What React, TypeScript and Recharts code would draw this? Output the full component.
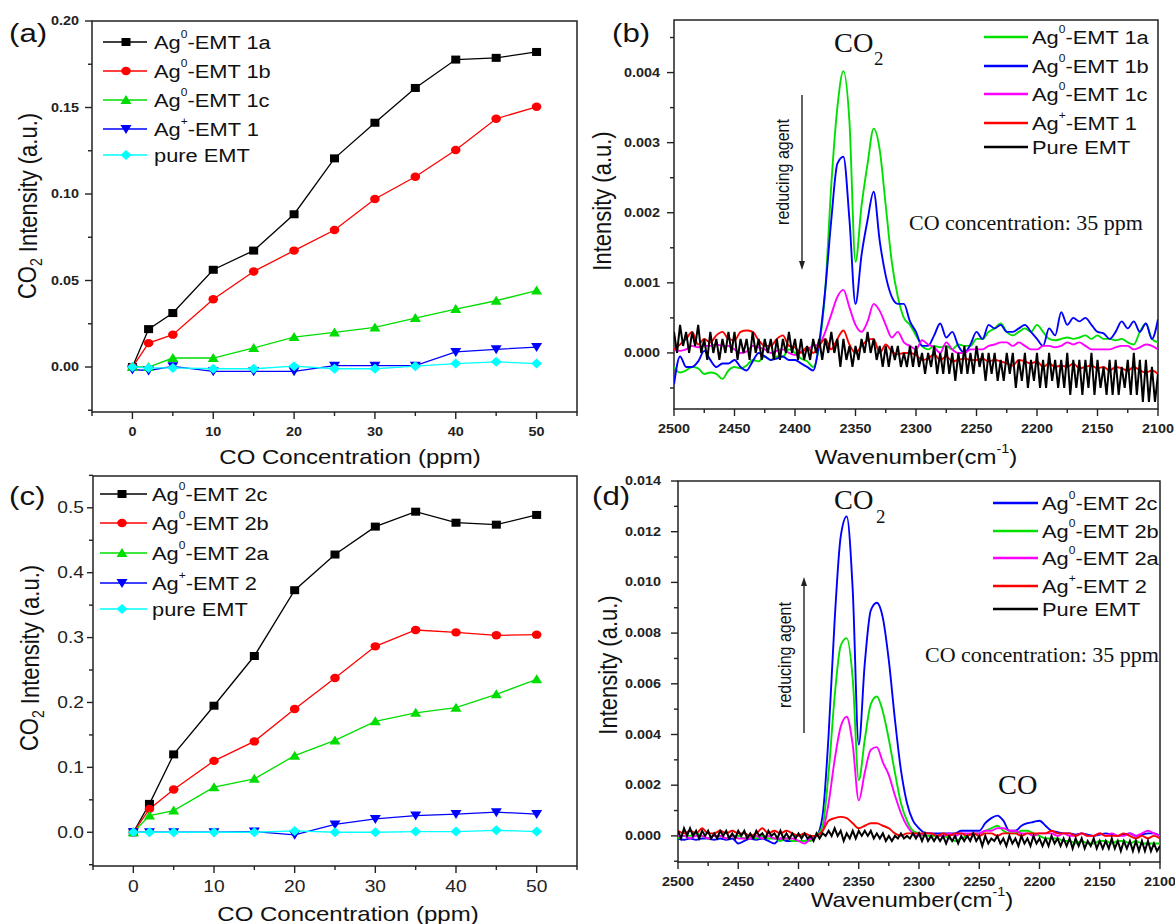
import React from 'react';
import { LineChart, Line, XAxis, YAxis, ReferenceArea } from 'recharts';

const SANS = '"Liberation Sans", Arial, sans-serif';
const SERIF = '"Liberation Serif", "Times New Roman", serif';
const SX = 1.2;

// ---------- Panel (a) ----------
const A_X = [0, 2, 5, 10, 15, 20, 25, 30, 35, 40, 45, 50];
const A_1A = [0, 0.0219, 0.0312, 0.0562, 0.0673, 0.0883, 0.1206, 0.1412, 0.1613, 0.1777, 0.1787, 0.1821];
const A_1B = [0, 0.0138, 0.0187, 0.0392, 0.0552, 0.0673, 0.0792, 0.0971, 0.11, 0.1254, 0.1435, 0.1504];
const A_1C = [0, 0, 0.0052, 0.0052, 0.011, 0.0173, 0.02, 0.0229, 0.0283, 0.0335, 0.0383, 0.0442];
const A_AG = [-0.0015, -0.002, 0.0004, -0.0025, -0.0025, -0.0025, 0.0008, 0.0008, 0.0008, 0.0087, 0.0102, 0.0115];
const A_PURE = [0, -0.0005, -0.0005, -0.001, -0.001, 0.0005, -0.001, -0.001, 0.0005, 0.002, 0.003, 0.002];

// ---------- Panel (c) ----------
const C_X = [0, 2, 5, 10, 15, 20, 25, 30, 35, 40, 45, 50];
const C_2C = [0, 0.0437, 0.12, 0.195, 0.2716, 0.373, 0.428, 0.471, 0.494, 0.477, 0.474, 0.489];
const C_2B = [0, 0.036, 0.066, 0.11, 0.14, 0.19, 0.2376, 0.2865, 0.3117, 0.308, 0.3035, 0.3045];
const C_2A = [0, 0.0257, 0.0334, 0.0694, 0.0823, 0.118, 0.1415, 0.171, 0.184, 0.192, 0.2125, 0.2356];
const C_AG = [0, 0, 0, 0, 0.001, -0.004, 0.012, 0.0206, 0.0257, 0.028, 0.031, 0.028];
const C_PURE = [0, 0, 0, 0, 0, 0.002, 0, 0, 0.001, 0.001, 0.003, 0.001];

// ---------- Spectra wavenumber grids (cm-1) ----------
const WN5 = Array.from({ length: 81 }, (_, i) => 2500 - 5 * i);
const WN25 = Array.from({ length: 161 }, (_, i) => 2500 - 2.5 * i);

// ---------- Panel (b) ----------
const B_1A = [
  -0.0002, -0.00028, -0.00025, -0.0002, -0.00022, -0.0003, -0.00028, -0.0003, -0.00037, -0.00025,
  -0.0002, -0.00022, -0.00018, -0.0001, -0.00012, -0.00005, -0.0001, -0.00005, -0.00005, 0.00005,
  0.0, -0.00008, -0.00012, -0.0002, 0.0001, 0.0009, 0.0024, 0.0035, 0.00402, 0.0033,
  0.0013, 0.0021, 0.0027, 0.0032, 0.0029, 0.0021, 0.0013, 0.0008, 0.0005, 0.0004,
  0.00025, 0.0001, 0.00005, 0.0001, 0.00008, 0.0001, 0.00005, 0.00012, 0.0001, 0.0001,
  0.0002, 0.0002, 0.0003, 0.00035, 0.00042, 0.0003, 0.00025, 0.0003, 0.00035, 0.0003,
  0.0004, 0.0003, 0.0002, 0.00018, 0.0002, 0.00022, 0.0002, 0.00022, 0.00025, 0.0002,
  0.00025, 0.0002, 0.0002, 0.00018, 0.0002, 0.00015, 0.00012, 0.0003, 0.00042, 0.0002,
  0.00015,
];
const B_1B = [
  -0.00045, -0.00005, -0.0002, -0.0002, -0.00012, 0.00003, -0.0001, -0.0002, -0.00015, -0.00015,
  -0.0001, -0.0002, -0.00025, -0.00012, 0.0, -0.00005, -0.0001, -0.00008, -0.00005, -0.0001,
  -0.0001, -0.00015, -0.0002, -0.00025, 0.00015, 0.0009, 0.0019, 0.0027, 0.0028, 0.0019,
  0.0007, 0.0014, 0.0019, 0.0023, 0.0016, 0.0011, 0.0008, 0.0007, 0.0007, 0.00045,
  0.0003, 0.0001, 0.0001, 0.00025, 0.00042, 0.00022, 0.0003, 0.0001, 0.0, 0.00012,
  0.0003, 0.0002, 0.0004, 0.00035, 0.0004, 0.0003, 0.0003, 0.00035, 0.0004, 0.0003,
  0.0002, 0.0001, 0.00035, 0.00025, 0.00058, 0.0004, 0.0005, 0.00045, 0.0005, 0.0004,
  0.0003, 0.00028, 0.0002, 0.0003, 0.00045, 0.00035, 0.00045, 0.0003, 0.00042, 0.0002,
  0.00048,
];
const B_1C = [
  0.00005, 0.00003, 0.00005, 0.0001, 0.00008, 0.0001, 0.0001, 0.00012, 0.0001, 0.0001,
  0.00005, 0.0, 0.00002, 0.0001, 0.00008, 0.00005, 0.0, 0.00003, 0.00005, 0.0,
  -0.00003, 0.00002, 0.00005, 0.0001, 0.00012, 0.0003, 0.00055, 0.0008, 0.0009, 0.00065,
  0.0004, 0.0003, 0.00045, 0.0007, 0.0006, 0.0004, 0.00022, 0.0003, 0.00015, 0.0001,
  0.00005, 0.00018, 0.00012, 0.00008, 0.0, 0.00015, 0.00005, 0.0, 0.0, 0.00005,
  0.00005, 0.00005, 0.0001, 0.00012, 0.00015, 0.00015, 0.0001, 0.00015, 0.0001, 0.00005,
  0.00005, 0.0001, 0.0001, 0.00008, 0.0001, 0.00015, 0.00012, 0.00015, 0.0001, 0.00005,
  0.00005, 0.00005, 0.00005, 0.00008, 0.0001, 0.0001, 0.00005, 0.00008, 0.00012, 0.0001,
  0.00005,
];
const B_AG = [
  0.00005, 0.00012, 0.0002, 0.0003, 0.00012, 0.0002, 0.00015, 0.00025, 0.0003, 0.0002,
  0.00018, 0.0003, 0.00032, 0.0003, 0.00018, 0.0001, 0.0001, 0.0002, 0.00025, 0.0001,
  0.00008, 0.0, 0.00008, 0.0, 0.0001, 0.0002, 0.00005, 0.0002, 0.00032, 0.00012,
  0.0, 0.0001, 0.00018, 0.0002, 0.0, 0.00012, 0.00002, -0.00002, 0.0, 0.0,
  -0.00003, -0.0001, -0.00008, -0.00002, -0.0001, -0.00005, -0.00012, -0.0001, -0.00008, -0.0001,
  -0.0001, -0.00008, -0.00012, -0.0001, -0.00012, -0.00015, -0.00018, -0.0001, -0.00012, -0.00015,
  -0.00012, -0.0002, -0.00015, -0.0002, -0.00018, -0.0002, -0.00015, -0.00022, -0.0002, -0.00018,
  -0.00022, -0.0002, -0.00025, -0.0002, -0.00022, -0.00025, -0.0002, -0.00025, -0.00028, -0.00025,
  -0.0003,
];
const B_PURE = [
  0.0003, 0.0, 0.0004, 0.0001, 0.0003, 0.0, 0.0003, 0.0001, 0.0004, 0.0,
  0.0002, -0.0001, 0.0003, 0.0, 0.0002, -0.0001, 0.0002, 0.0, 0.0003, 0.0,
  0.0003, -0.0001, 0.0002, 0.0, 0.0002, -0.0001, 0.0003, 0.0, 0.0002, -0.0001,
  0.0002, 0.0, 0.0002, -0.0001, 0.0002, -0.0001, 0.0002, 0.0, 0.0003, 0.0,
  0.0002, -0.0001, 0.0002, -0.0001, 0.0001, -0.0001, 0.0002, 0.0, 0.0002, -0.0001,
  0.0002, 0.0, 0.0003, 0.0, 0.0002, -0.0002, 0.0002, -0.0001, 0.0001, -0.0002,
  0.0001, -0.0001, 0.0002, 0.0, 0.0003, 0.0, 0.0002, -0.0001, 0.0001, -0.0002,
  0.0001, -0.0002, 0.0001, -0.0001, 0.0001, -0.0002, 0.0, -0.0002, 0.0001, -0.0002,
  0.0001, -0.0002, 0.0, -0.0003, 0.0, -0.0002, 0.0001, -0.0003, 0.0, -0.0003,
  0.0001, -0.0003, 0.0, -0.0004, 0.0, -0.0003, 0.0001, -0.0003, 0.0, -0.0003,
  0.0001, -0.0002, 0.0, -0.0004, 0.0, -0.0003, 0.0, -0.0004, -0.0001, -0.0004,
  0.0, -0.0003, 0.0, -0.0005, -0.0001, -0.0004, 0.0, -0.0005, -0.0001, -0.0004,
  0.0, -0.0005, -0.0001, -0.0005, 0.0, -0.0004, -0.0001, -0.0005, -0.0001, -0.0005,
  0.0, -0.0006, -0.0001, -0.0005, -0.0001, -0.0006, -0.0001, -0.0005, 0.0, -0.0006,
  -0.0001, -0.0005, -0.0002, -0.0006, -0.0001, -0.0006, -0.0001, -0.0006, -0.0002, -0.0005,
  -0.0001, -0.0006, 0.0, -0.0006, -0.0001, -0.0007, -0.0001, -0.0007, -0.0002, -0.0007,
  -0.0003,
];

// ---------- Panel (d) ----------
const D_2C = [
  -0.0001, -0.00015, -0.0001, -0.00015, -0.0001, -0.0001, -0.00015, -0.0001, -0.00015, -0.0001,
  -0.0003, -0.0002, -0.0001, -0.00015, -0.0001, -0.0002, -0.0003, -0.0001, -0.0002, -0.0002,
  -0.0002, -0.0002, -0.0001, 0.0, 0.0008, 0.004, 0.0085, 0.0118, 0.0126, 0.0097,
  0.0036, 0.0068, 0.0089, 0.0092, 0.0086, 0.0069, 0.0046, 0.0026, 0.0013, 0.0006,
  0.0003, 0.00012, 0.0001, 0.0001, 0.0001, 0.0001, 0.0001, 0.0002, 0.0002, 0.0002,
  0.0002, 0.0005, 0.0007, 0.0008, 0.0006, 0.0002, 0.0002, 0.0004, 0.0005, 0.00055,
  0.0006, 0.0004, 0.0002, 0.00015, 0.0001, 0.0001, 0.00005, 0.0001, 0.00005, 0.0,
  0.00005, 0.0001, 0.00005, 0.0, 0.00005, 0.0001, 0.0, 0.00005, 0.0001, 0.0001,
  0.0,
];
const D_2B = [
  -0.0001, 0.0, 0.0, 0.0001, 0.0, -0.0001, 0.0, 0.0, -0.0001, 0.0,
  0.0, -0.0001, 0.0, -0.0001, 0.0, -0.0001, -0.0001, -0.0002, -0.0001, -0.0002,
  -0.0002, -0.0002, -0.0002, 0.0, 0.0004, 0.0025, 0.0055, 0.0075, 0.0078, 0.0062,
  0.0022, 0.0038, 0.0052, 0.0055, 0.0049, 0.0038, 0.0025, 0.0013, 0.0006, 0.0002,
  0.0001, 0.0, 0.0, 0.0, 0.0, -0.0001, -0.0002, -0.0001, 0.0, 0.0001,
  0.0001, 0.0002, 0.0003, 0.0004, 0.0002, 0.0001, 0.0001, 0.0002, 0.0002, 0.0001,
  0.0, -0.0001, -0.0001, -0.0001, -0.0002, -0.0002, -0.0003, -0.0002, -0.0003, -0.0003,
  -0.0002, -0.0002, -0.0003, -0.0002, -0.0002, -0.0003, -0.0002, -0.0003, -0.0003, -0.0003,
  -0.0003,
];
const D_2A = [
  0.0, 0.0, -0.0001, 0.0, 0.0, -0.0001, 0.0, 0.0, -0.0001, 0.0,
  -0.0001, -0.0001, -0.0001, 0.0, -0.0001, 0.0, -0.0001, -0.0001, -0.0001, -0.0001,
  -0.0002, -0.0003, -0.0001, 0.0, 0.0002, 0.0013, 0.003, 0.0043, 0.0047, 0.0036,
  0.0014, 0.0025, 0.0034, 0.0035, 0.0029, 0.0024, 0.0016, 0.0009, 0.0004, 0.0001,
  0.0, 0.0001, 0.0001, 0.0, 0.0, 0.0001, 0.0, 0.0001, 0.0001, 0.0001,
  0.0001, 0.0002, 0.0002, 0.0003, 0.0003, 0.0002, 0.0002, 0.0001, 0.0001, 0.0,
  0.0001, 0.0001, 0.0001, 0.0, 0.0001, 0.0, 0.0, 0.0001, 0.0, 0.0,
  0.0001, 0.0, 0.0001, 0.0, 0.0, 0.0001, 0.0, 0.0001, 0.0002, 0.0001,
  0.0,
];
const D_AG = [
  0.0002, 0.0001, 0.0002, 0.0001, 0.0003, 0.0001, 0.0001, 0.0002, 0.0001, 0.0002,
  0.0001, 0.0001, 0.0, 0.0001, 0.0003, 0.0001, 0.0002, 0.0001, 0.0002, 0.0001,
  0.0, 0.0001, 0.0, 0.0, 0.0002, 0.0006, 0.0007, 0.00075, 0.0007, 0.0005,
  0.0003, 0.0004, 0.0005, 0.0005, 0.0004, 0.0003, 0.0001, 0.0, 0.0001, 0.0001,
  0.0001, 0.0001, 0.0001, 0.0, 0.0001, 0.0, 0.0001, 0.0001, 0.0, 0.0001,
  0.0, 0.0001, 0.0001, 0.0, 0.0001, 0.0001, 0.0001, 0.0, 0.0001, 0.0001,
  0.0001, 0.0001, 0.0002, 0.0001, 0.0001, 0.0001, 0.0, 0.0001, 0.0, 0.0,
  0.0001, 0.0, 0.0, 0.0, 0.0001, 0.0, -0.0001, 0.0, -0.0001, 0.0,
  -0.0001,
];
const D_PURE = [
  0.0002, -0.0001, 0.0003, 0.0, 0.0003, 0.0, 0.0002, -0.0001, 0.0002, 0.0,
  0.0002, -0.0001, 0.0001, -0.0001, 0.0002, 0.0, 0.0002, -0.0001, 0.0001, -0.0001,
  0.0002, 0.0, 0.0002, -0.0001, 0.0001, -0.0001, 0.0002, 0.0, 0.0001, -0.0001,
  0.0002, 0.0, 0.0001, -0.0001, 0.0002, -0.0001, 0.0001, -0.0001, 0.0001, -0.0001,
  0.0001, -0.0001, 0.0001, -0.0001, 0.0, -0.0002, 0.0001, -0.0001, 0.0001, 0.0,
  0.0002, 0.0, 0.0003, 0.0, 0.0002, -0.0002, 0.0001, -0.0001, 0.0002, -0.0001,
  0.0002, 0.0, 0.0002, 0.0, 0.0002, -0.0001, 0.0001, -0.0001, 0.0001, -0.0002,
  0.0, -0.0002, 0.0, -0.0001, 0.0001, -0.0001, 0.0, -0.0001, 0.0001, -0.0001,
  0.0001, -0.0002, 0.0001, -0.0002, 0.0, -0.0002, 0.0, -0.0002, 0.0, -0.0003,
  0.0, -0.0002, 0.0, -0.0003, 0.0, -0.0002, 0.0, -0.0002, 0.0001, -0.0002,
  0.0, -0.0004, 0.0, -0.0003, -0.0001, -0.0002, 0.0, -0.0003, -0.0001, -0.0004,
  0.0, -0.0003, -0.0001, -0.0004, 0.0, -0.0003, -0.0001, -0.0004, 0.0, -0.0003,
  -0.0001, -0.0004, -0.0001, -0.0004, 0.0, -0.0003, -0.0001, -0.0004, -0.0001, -0.0004,
  -0.0001, -0.0005, -0.0001, -0.0004, -0.0001, -0.0005, -0.0002, -0.0004, -0.0001, -0.0005,
  -0.0002, -0.0005, -0.0002, -0.0005, -0.0001, -0.0005, -0.0002, -0.0006, -0.0002, -0.0005,
  -0.0002, -0.0006, -0.0002, -0.0006, -0.0002, -0.0006, -0.0002, -0.0006, -0.0003, -0.0006,
  -0.0004,
];

// ---------- Ticks ----------
const AC_XT = [-5, 0, 5, 10, 15, 20, 25, 30, 35, 40, 45, 50, 55];
const AC_XM = [0, 10, 20, 30, 40, 50];
const A_YT = [-0.025, 0, 0.025, 0.05, 0.075, 0.1, 0.125, 0.15, 0.175, 0.2];
const A_YM = [0, 0.05, 0.1, 0.15, 0.2];
const C_YT = [-0.05, 0, 0.05, 0.1, 0.15, 0.2, 0.25, 0.3, 0.35, 0.4, 0.45, 0.5, 0.55];
const C_YM = [0, 0.1, 0.2, 0.3, 0.4, 0.5];
const BD_XT = [2500, 2475, 2450, 2425, 2400, 2375, 2350, 2325, 2300, 2275, 2250, 2225, 2200, 2175, 2150, 2125, 2100];
const BD_XM = [2500, 2450, 2400, 2350, 2300, 2250, 2200, 2150, 2100];
const B_YT = [-0.0005, 0, 0.0005, 0.001, 0.0015, 0.002, 0.0025, 0.003, 0.0035, 0.004, 0.0045];
const B_YM = [0, 0.001, 0.002, 0.003, 0.004];
const D_YT = [-0.001, 0, 0.001, 0.002, 0.003, 0.004, 0.005, 0.006, 0.007, 0.008, 0.009, 0.01, 0.011, 0.012, 0.013, 0.014];
const D_YM = [0, 0.002, 0.004, 0.006, 0.008, 0.01, 0.012, 0.014];

const A_XD = [-5, 55];
const A_YD = [-0.026, 0.2];
const C_YD = [-0.052, 0.549];
const BD_XD = [2100, 2500];
const B_YD = [-0.0008, 0.00475];
const D_YD = [-0.00103, 0.014];

// ---------- Legend labels ----------
const LEG_A = [['Ag', '0', '-EMT 1a'], ['Ag', '0', '-EMT 1b'], ['Ag', '0', '-EMT 1c'], ['Ag', '+', '-EMT 1'], ['pure EMT', '', '']];
const LEG_B = [['Ag', '0', '-EMT 1a'], ['Ag', '0', '-EMT 1b'], ['Ag', '0', '-EMT 1c'], ['Ag', '+', '-EMT 1'], ['Pure EMT', '', '']];
const LEG_C = [['Ag', '0', '-EMT 2c'], ['Ag', '0', '-EMT 2b'], ['Ag', '0', '-EMT 2a'], ['Ag', '+', '-EMT 2'], ['pure EMT', '', '']];
const LEG_D = [['Ag', '0', '-EMT 2c'], ['Ag', '0', '-EMT 2b'], ['Ag', '0', '-EMT 2a'], ['Ag', '+', '-EMT 2'], ['Pure EMT', '', '']];

// ---------- Styles ----------
const SC_COLORS = ['#000000', '#ff0000', '#00dd00', '#0000ff', '#00ffff'];
const SC_SHAPES = ['square', 'circle', 'up', 'down', 'diamond'];
const B_COLORS = ['#00e000', '#0000ff', '#ff00ff', '#ff0000', '#000000'];
const D_COLORS = ['#0000ff', '#00e000', '#ff00ff', '#ff0000', '#000000'];

const pts = (xs: number[], ys: number[]) => xs.map((x, i) => ({ x, y: ys[i] }));

function SText(props: any) {
  const { x, y, size, children, anchor = 'start', weight = 400, family = SANS, sx = SX, rotate = 0, fill = '#111', baseline = 'central' } = props;
  const tr = `translate(${x},${y}) scale(${sx},1)` + (rotate ? ` rotate(${rotate})` : '');
  return (
    <g transform={tr}>
      <text x={0} y={0} fontSize={size} fontFamily={family} fontWeight={weight} textAnchor={anchor} dominantBaseline={baseline} fill={fill}>
        {children}
      </text>
    </g>
  );
}

function Marker({ shape, cx, cy, color }: any) {
  if (shape === 'square') return <rect x={cx - 4.5} y={cy - 4} width={9} height={8} fill={color} />;
  if (shape === 'circle') return <ellipse cx={cx} cy={cy} rx={4.8} ry={4.2} fill={color} />;
  if (shape === 'up') return <polygon points={`${cx - 5.5},${cy + 4} ${cx + 5.5},${cy + 4} ${cx},${cy - 5}`} fill={color} />;
  if (shape === 'down') return <polygon points={`${cx - 5.5},${cy - 4} ${cx + 5.5},${cy - 4} ${cx},${cy + 5}`} fill={color} />;
  return <polygon points={`${cx - 5.5},${cy} ${cx},${cy - 5} ${cx + 5.5},${cy} ${cx},${cy + 5}`} fill={color} />;
}

const dotFor = (shape: string, color: string) => (p: any) => (
  <Marker key={`m${p.index}`} shape={shape} cx={p.cx} cy={p.cy} color={color} />
);

const near = (arr: number[], v: number) => arr.some((m) => Math.abs(m - v) < 1e-9);

function makeTick(o: any) {
  return (p: any) => {
    const { x, y, payload } = p;
    const v = payload.value;
    const maj = near(o.majors, v);
    const len = maj ? o.major : o.minor;
    if (o.side === 'left') {
      return (
        <g>
          <line x1={x} x2={x - len} y1={y} y2={y} stroke="#222" strokeWidth={1.4} />
          {maj && (
            <SText x={x - o.major - o.gap} y={y} size={o.size} anchor="end" weight={o.weight} fill="#222">
              {o.fmt(v)}
            </SText>
          )}
        </g>
      );
    }
    return (
      <g>
        <line x1={x} x2={x} y1={y} y2={y + len} stroke="#222" strokeWidth={1.4} />
        {maj && (
          <SText x={x} y={y + o.off} size={o.size} anchor="middle" weight={o.weight} fill="#222">
            {o.fmt(v)}
          </SText>
        )}
      </g>
    );
  };
}

function Chart(p: any) {
  return (
    <div style={{ position: 'absolute', left: p.left, top: p.top }}>
      <LineChart width={p.w} height={p.h} margin={p.margin}>
        <XAxis
          type="number"
          dataKey="x"
          domain={p.xd}
          ticks={p.xt}
          interval={0}
          reversed={!!p.rev}
          allowDataOverflow
          axisLine={false}
          tickLine={false}
          tickSize={0}
          tickMargin={0}
          height={p.xh}
          tick={p.xTick}
        />
        <YAxis
          type="number"
          domain={p.yd}
          ticks={p.yt}
          interval={0}
          allowDataOverflow
          axisLine={false}
          tickLine={false}
          tickSize={0}
          tickMargin={0}
          width={p.yw}
          tick={p.yTick}
        />
        <ReferenceArea x1={p.xd[0]} x2={p.xd[1]} y1={p.yd[0]} y2={p.yd[1]} fill="none" fillOpacity={0} stroke="#222" strokeWidth={1.5} ifOverflow="visible" />
        {p.lines}
      </LineChart>
    </div>
  );
}

function scatterLines(xs: number[], series: number[][]) {
  return series.map((ys, i) => (
    <Line
      key={`s${i}`}
      data={pts(xs, ys)}
      dataKey="y"
      type="linear"
      stroke={SC_COLORS[i]}
      strokeWidth={1.3}
      dot={dotFor(SC_SHAPES[i], SC_COLORS[i])}
      activeDot={false}
      isAnimationActive={false}
    />
  ));
}

function specLines(series: number[][], colors: string[]) {
  return series.map((ys, i) => {
    const isBlack = i === 4;
    return (
      <Line
        key={`p${i}`}
        data={pts(isBlack ? WN25 : WN5, ys)}
        dataKey="y"
        type={isBlack ? 'linear' : 'monotone'}
        stroke={colors[i]}
        strokeWidth={isBlack ? 2 : 1.9}
        dot={false}
        activeDot={false}
        isAnimationActive={false}
      />
    );
  });
}

function Label3({ x, y, size, parts }: any) {
  const [pre, sup, post] = parts;
  return (
    <SText x={x} y={y} size={size} sx={1.15}>
      {pre}
      {sup && (
        <tspan fontSize={size * 0.55} dy={-size * 0.42}>
          {sup}
        </tspan>
      )}
      {sup && <tspan dy={size * 0.42}>{post}</tspan>}
    </SText>
  );
}

function ScatterLegend({ x1, x2, mx, tx, ys, labels }: any) {
  return (
    <g>
      {ys.map((y: number, i: number) => (
        <g key={i}>
          <line x1={x1} x2={x2} y1={y} y2={y} stroke={SC_COLORS[i]} strokeWidth={1.4} />
          <Marker shape={SC_SHAPES[i]} cx={mx} cy={y} color={SC_COLORS[i]} />
          <Label3 x={tx} y={y} size={19} parts={labels[i]} />
        </g>
      ))}
    </g>
  );
}

function SpecLegend({ x1, x2, tx, ys, labels, colors }: any) {
  return (
    <g>
      {ys.map((y: number, i: number) => (
        <g key={i}>
          <line x1={x1} x2={x2} y1={y} y2={y} stroke={colors[i]} strokeWidth={2.6} />
          <Label3 x={tx} y={y} size={19} parts={labels[i]} />
        </g>
      ))}
    </g>
  );
}

function Arrow({ x, y1, y2 }: any) {
  const dir = y2 > y1 ? 1 : -1;
  return (
    <g>
      <line x1={x} x2={x} y1={y1} y2={y2 - dir * 6} stroke="#222" strokeWidth={1.4} />
      <polygon points={`${x - 3},${y2 - dir * 9} ${x + 3},${y2 - dir * 9} ${x},${y2}`} fill="#222" />
    </g>
  );
}

const fmt0 = (v: number) => String(Math.round(v));
const fmt2 = (v: number) => v.toFixed(2);
const fmt1 = (v: number) => v.toFixed(1);
const fmt3 = (v: number) => v.toFixed(3);

export default function App() {
  const aX = makeTick({ side: 'bottom', majors: AC_XM, major: 7, minor: 4, off: 20, size: 12, weight: 700, fmt: fmt0 });
  const aY = makeTick({ side: 'left', majors: A_YM, major: 7, minor: 4, gap: 6, size: 12, weight: 700, fmt: fmt2 });
  const cX = makeTick({ side: 'bottom', majors: AC_XM, major: 7, minor: 4, off: 21, size: 16, weight: 400, fmt: fmt0 });
  const cY = makeTick({ side: 'left', majors: C_YM, major: 6, minor: 4, gap: 3, size: 16, weight: 400, fmt: fmt1 });
  const bX = makeTick({ side: 'bottom', majors: BD_XM, major: 7, minor: 4, off: 20, size: 12, weight: 700, fmt: fmt0 });
  const bY = makeTick({ side: 'left', majors: B_YM, major: 7, minor: 4, gap: 7, size: 12, weight: 700, fmt: fmt3 });
  const dY = makeTick({ side: 'left', majors: D_YM, major: 7, minor: 4, gap: 10, size: 12, weight: 700, fmt: fmt3 });

  return (
    <div style={{ position: 'absolute', left: 0, top: 0, width: 1175, height: 924, background: '#fff', overflow: 'hidden' }}>
      <Chart
        left={0}
        top={0}
        w={590}
        h={470}
        margin={{ top: 21, right: 13, bottom: 0, left: 0 }}
        yw={92}
        xh={58}
        xd={A_XD}
        yd={A_YD}
        xt={AC_XT}
        yt={A_YT}
        xTick={aX}
        yTick={aY}
        lines={scatterLines(A_X, [A_1A, A_1B, A_1C, A_AG, A_PURE])}
      />
      <Chart
        left={590}
        top={0}
        w={585}
        h={470}
        margin={{ top: 20, right: 17, bottom: 0, left: 0 }}
        yw={84}
        xh={61}
        xd={BD_XD}
        yd={B_YD}
        xt={BD_XT}
        yt={B_YT}
        rev
        xTick={bX}
        yTick={bY}
        lines={specLines([B_1A, B_1B, B_1C, B_AG, B_PURE], B_COLORS)}
      />
      <Chart
        left={0}
        top={470}
        w={590}
        h={454}
        margin={{ top: 6, right: 13, bottom: 0, left: 0 }}
        yw={93}
        xh={58}
        xd={A_XD}
        yd={C_YD}
        xt={AC_XT}
        yt={C_YT}
        xTick={cX}
        yTick={cY}
        lines={scatterLines(C_X, [C_2C, C_2B, C_2A, C_AG, C_PURE])}
      />
      <Chart
        left={590}
        top={470}
        w={585}
        h={454}
        margin={{ top: 11, right: 15, bottom: 0, left: 0 }}
        yw={88}
        xh={62}
        xd={BD_XD}
        yd={D_YD}
        xt={BD_XT}
        yt={D_YT}
        rev
        xTick={bX}
        yTick={dY}
        lines={specLines([D_2C, D_2B, D_2A, D_AG, D_PURE], D_COLORS)}
      />

      <svg width={1175} height={924} style={{ position: 'absolute', left: 0, top: 0, pointerEvents: 'none' }}>
        {/* panel letters */}
        <SText x={9} y={33} size={26}>(a)</SText>
        <SText x={612} y={33} size={26}>(b)</SText>
        <SText x={9} y={496} size={26}>(c)</SText>
        <SText x={592} y={496} size={26}>(d)</SText>

        {/* axis titles (a) */}
        <SText x={350} y={457} size={20} anchor="middle">CO Concentration (ppm)</SText>
        <SText x={27} y={206} size={22} anchor="middle" rotate={-90}>
          CO<tspan fontSize={14} dy={7}>2</tspan>
          <tspan dy={-7}> Intensity (a.u.)</tspan>
        </SText>
        {/* (b) */}
        <SText x={916} y={457} size={20} anchor="middle">
          Wavenumber(cm<tspan fontSize={12} dy={-9}>-1</tspan>
          <tspan dy={9}>)</tspan>
        </SText>
        <SText x={602} y={201} size={22} anchor="middle" rotate={-90}>Intensity (a.u.)</SText>
        {/* (c) */}
        <SText x={348} y={914} size={20} anchor="middle">CO Concentration (ppm)</SText>
        <SText x={29} y={658} size={22} anchor="middle" rotate={-90}>
          CO<tspan fontSize={14} dy={7}>2</tspan>
          <tspan dy={-7}> Intensity (a.u.)</tspan>
        </SText>
        {/* (d) */}
        <SText x={912} y={900} size={20} anchor="middle">
          Wavenumber(cm<tspan fontSize={12} dy={-9}>-1</tspan>
          <tspan dy={9}>)</tspan>
        </SText>
        <SText x={608} y={665} size={22} anchor="middle" rotate={-90}>Intensity (a.u.)</SText>

        {/* legends */}
        <ScatterLegend x1={103} x2={147} mx={126} tx={154} ys={[42, 71, 100, 129, 155]} labels={LEG_A} />
        <ScatterLegend x1={100} x2={147} mx={122} tx={152} ys={[494, 523, 553, 583, 609]} labels={LEG_C} />
        <SpecLegend x1={984} x2={1028} tx={1032} ys={[37, 66, 94, 123, 147]} labels={LEG_B} colors={B_COLORS} />
        <SpecLegend x1={993} x2={1038} tx={1042} ys={[503, 531, 558, 586, 609]} labels={LEG_D} colors={D_COLORS} />

        {/* annotations (b) */}
        <SText x={834} y={43} size={27} family={SERIF} sx={1.05}>CO</SText>
        <SText x={874} y={59} size={18} family={SERIF} sx={1.05}>2</SText>
        <SText x={909} y={223} size={20} family={SERIF} sx={1.1}>CO concentration: 35 ppm</SText>
        <SText x={782} y={172} size={16} anchor="middle" rotate={-90}>reducing agent</SText>
        <Arrow x={802} y1={95} y2={270} />

        {/* annotations (d) */}
        <SText x={834} y={500} size={27} family={SERIF} sx={1.05}>CO</SText>
        <SText x={876} y={517} size={18} family={SERIF} sx={1.05}>2</SText>
        <SText x={925} y={655} size={20} family={SERIF} sx={1.1}>CO concentration: 35 ppm</SText>
        <SText x={998} y={785} size={27} family={SERIF} sx={1.05}>CO</SText>
        <SText x={784} y={655} size={16} anchor="middle" rotate={-90}>reducing agent</SText>
        <Arrow x={804} y1={733} y2={577} />
      </svg>
    </div>
  );
}
